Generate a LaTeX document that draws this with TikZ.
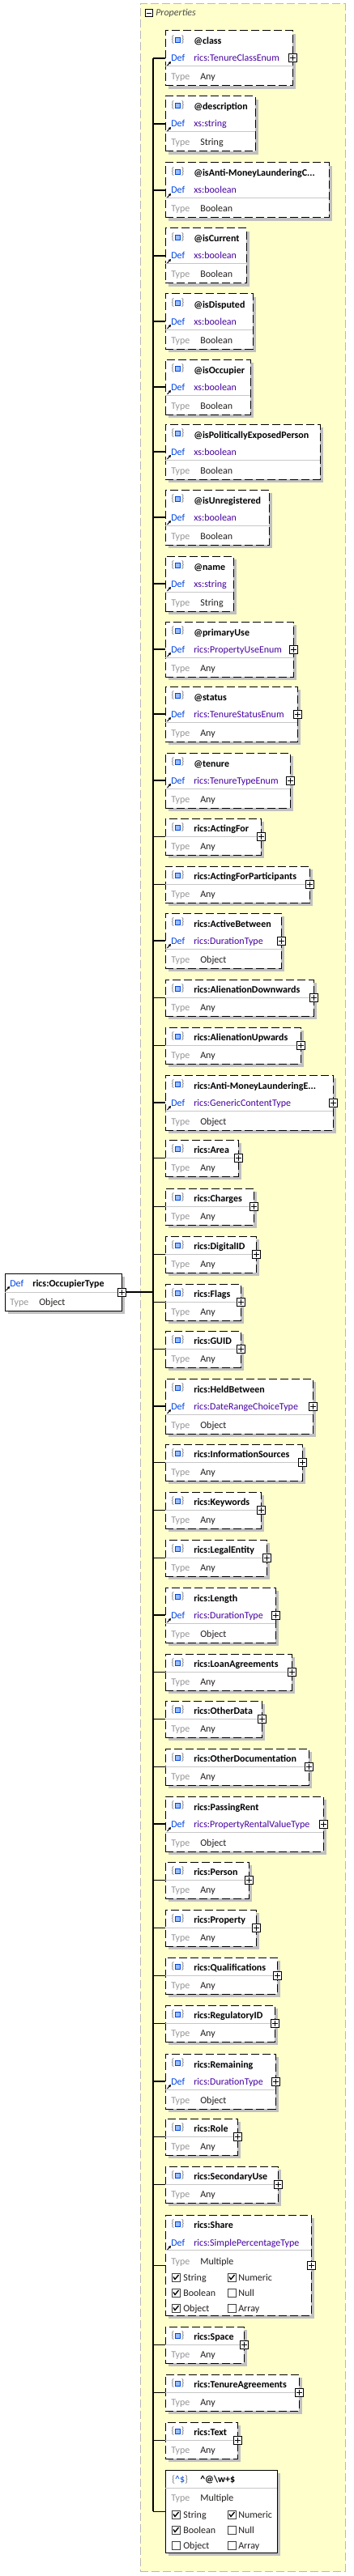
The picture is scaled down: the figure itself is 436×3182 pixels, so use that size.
\documentclass[tikz,border=0pt]{standalone}
\usepackage{fontspec}
\setmainfont{Carlito}
\usetikzlibrary{fit,shadows,arrows.meta}

\definecolor{panelfill}{RGB}{255,255,204}
\definecolor{panelline}{RGB}{185,185,185}
\definecolor{shade}{RGB}{192,192,192}
\definecolor{defblue}{RGB}{0,70,230}
\definecolor{defval}{RGB}{70,0,160}
\definecolor{typegrey}{RGB}{150,150,150}
\definecolor{typeval}{RGB}{35,30,30}
\definecolor{bracegrey}{RGB}{120,120,120}
\definecolor{iconfill}{RGB}{150,190,255}

% box with Def row: id, top, right, name, def, type, plus
\newcommand\defbox[7]{%
  \node[propbox, fit={(204,#2) (#3,#2+68)}] (#1) {};
  \pic at (219.5,#2+11) {objicon};
  \node[bold] at (239,#2+17) {#4};
  \node[lbl, text=defblue] at (211,#2+38) {Def};
  \node[lbl, text=defval] at (239,#2+38) {#5};
  \draw[rowline] (204,#2+44) -- (#3,#2+44);
  \node[lbl, text=typegrey] at (211,#2+61) {Type};
  \node[lbl, text=typeval] at (247,#2+61) {#6};
  \draw[shortcut] (206.5,#2+43) -- ++(4.5,-5);
  \draw[link] (#1.west -| trunk) -- (#1.west);
  \ifnum#7=1 \pic at (#1.east) {plusbox};\fi
}
% box without Def row: id, top, right, name
\newcommand\elbox[4]{%
  \node[propbox, fit={(204,#2) (#3,#2+45)}] (#1) {};
  \pic at (219.5,#2+11) {objicon};
  \node[bold] at (239,#2+16) {#4};
  \draw[rowline] (204,#2+22) -- (#3,#2+22);
  \node[lbl, text=typegrey] at (211,#2+38) {Type};
  \node[lbl, text=typeval] at (247,#2+38) {Any};
  \draw[link] (#1.west -| trunk) -- (#1.west);
  \pic at (#1.east) {plusbox};
}

\begin{document}
\begin{tikzpicture}[x=0.75pt,y=-0.75pt,
  lbl/.style={inner sep=0pt, anchor=base west, font=\fontsize{9}{11}\selectfont},
  bold/.style={lbl, font=\fontsize{9}{11}\selectfont\bfseries},
  propbox/.style={draw=black, fill=white, line width=0.75pt, dash pattern=on 7.5pt off 3pt,
    inner sep=0pt, drop shadow={shadow xshift=3pt, shadow yshift=-3pt, draw=none, fill=shade, opacity=1}},
  patbox/.style={propbox, solid},
  rootbox/.style={propbox, solid},
  panel/.style={draw=panelline, fill=panelfill, line width=0.75pt, dash pattern=on 7.5pt off 3pt, inner sep=0pt},
  rowline/.style={draw=black!22, line width=0.75pt},
  link/.style={draw=black, line width=0.8pt},
  shortcut/.style={-{Triangle[length=2.2pt,width=2.4pt]}, line width=0.7pt},
  objicon/.pic={
    \node[inner sep=0pt, text=bracegrey, font=\fontsize{9}{11}\selectfont] at (-6,0) {\{};
    \node[inner sep=0pt, text=bracegrey, font=\fontsize{9}{11}\selectfont] at (6,0) {\}};
    \draw[draw=defblue, fill=iconfill, line width=0.6pt] (-3,-3) rectangle (3,3);
  },
  plusbox/.pic={
    \draw[fill=white, line width=0.75pt] (-5,-5) rectangle (5,5);
    \draw[line width=0.75pt] (-3.5,0) -- (3.5,0) (0,-3.5) -- (0,3.5);
  },
  minusbox/.pic={
    \draw[fill=white, line width=0.75pt] (-4.5,-4.5) rectangle (4.5,4.5);
    \draw[line width=0.75pt] (-3,0) -- (3,0);
  },
  chkon/.pic={
    \draw[draw=black!75, fill=white, line width=0.6pt] (-5,-5) rectangle (5,5);
    \draw[line width=1pt] (-3,-0.5) -- (-1,2.5) -- (3.5,-3);
  },
  chkoff/.pic={
    \draw[draw=black!75, fill=white, line width=0.6pt] (-5,-5) rectangle (5,5);
  }]
\useasboundingbox (0,0) rectangle (436,3182);

% properties panel
\node[panel, fit={(173,5) (426,3176)}] (props) {};
\pic at (183.5,16.5) {minusbox};
\node[lbl, font=\fontsize{9}{11}\selectfont\itshape, text=black!70] at (192,20) {Properties};
\coordinate (trunk) at (189,0);

% attributes
\defbox{class}{38}{361}{@class}{rics:TenureClassEnum}{Any}{1}
\defbox{description}{119}{315}{@description}{xs:string}{String}{0}
\defbox{isaml}{201}{406}{@isAnti-MoneyLaunderingC...}{xs:boolean}{Boolean}{0}
\defbox{iscurrent}{282}{304}{@isCurrent}{xs:boolean}{Boolean}{0}
\defbox{isdisputed}{363}{312}{@isDisputed}{xs:boolean}{Boolean}{0}
\defbox{isoccupier}{444}{309}{@isOccupier}{xs:boolean}{Boolean}{0}
\defbox{ispep}{524}{395}{@isPoliticallyExposedPerson}{xs:boolean}{Boolean}{0}
\defbox{isunregistered}{605}{332}{@isUnregistered}{xs:boolean}{Boolean}{0}
\defbox{name}{687}{288}{@name}{xs:string}{String}{0}
\defbox{primaryuse}{768}{362}{@primaryUse}{rics:PropertyUseEnum}{Any}{1}
\defbox{status}{848}{367}{@status}{rics:TenureStatusEnum}{Any}{1}
\defbox{tenure}{930}{358}{@tenure}{rics:TenureTypeEnum}{Any}{1}

% elements
\elbox{actingfor}{1011}{322}{rics:ActingFor}
\elbox{actingforparticipants}{1070}{382}{rics:ActingForParticipants}
\defbox{activebetween}{1128}{347}{rics:ActiveBetween}{rics:DurationType}{Object}{1}
\elbox{alienationdownwards}{1210}{387}{rics:AlienationDownwards}
\elbox{alienationupwards}{1269}{371}{rics:AlienationUpwards}
\defbox{amle}{1328}{411}{rics:Anti-MoneyLaunderingE...}{rics:GenericContentType}{Object}{1}
\elbox{area}{1408}{294}{rics:Area}
\elbox{charges}{1468}{313}{rics:Charges}
\elbox{digitalid}{1527}{316}{rics:DigitalID}
\elbox{flags}{1586}{297}{rics:Flags}
\elbox{guid}{1644}{297}{rics:GUID}
\defbox{heldbetween}{1703}{386}{rics:HeldBetween}{rics:DateRangeChoiceType}{Object}{1}
\elbox{informationsources}{1784}{373}{rics:InformationSources}
\elbox{keywords}{1843}{322}{rics:Keywords}
\elbox{legalentity}{1902}{329}{rics:LegalEntity}
\defbox{length}{1961}{340}{rics:Length}{rics:DurationType}{Object}{1}
\elbox{loanagreements}{2043}{360}{rics:LoanAgreements}
\elbox{otherdata}{2101}{323}{rics:OtherData}
\elbox{otherdocumentation}{2160}{381}{rics:OtherDocumentation}
\defbox{passingrent}{2219}{399}{rics:PassingRent}{rics:PropertyRentalValueType}{Object}{1}
\elbox{person}{2300}{307}{rics:Person}
\elbox{property}{2359}{316}{rics:Property}
\elbox{qualifications}{2418}{342}{rics:Qualifications}
\elbox{regulatoryid}{2477}{339}{rics:RegulatoryID}
\defbox{remaining}{2537}{340}{rics:Remaining}{rics:DurationType}{Object}{1}
\elbox{role}{2617}{293}{rics:Role}
\elbox{secondaryuse}{2676}{343}{rics:SecondaryUse}

% share, several types
\node[propbox, fit={(204,2736) (384,2860)}] (share) {};
\pic at (219.5,2747) {objicon};
\node[bold] at (239,2752) {rics:Share};
\node[lbl, text=defblue] at (211,2774) {Def};
\node[lbl, text=defval] at (239,2774) {rics:SimplePercentageType};
\draw[shortcut] (206.5,2779) -- ++(4.5,-5);
\draw[rowline] (204,2779) -- (384,2779);
\node[lbl, text=typegrey] at (211,2797) {Type};
\node[lbl, text=typeval] at (247,2797) {Multiple};
\pic at (217,2813) {chkon};  \node[lbl, text=typeval] at (226,2817) {String};
\pic at (286,2813) {chkon};  \node[lbl, text=typeval] at (294,2817) {Numeric};
\pic at (217,2832) {chkon};  \node[lbl, text=typeval] at (226,2836) {Boolean};
\pic at (286,2832) {chkoff}; \node[lbl, text=typeval] at (294,2836) {Null};
\pic at (217,2851) {chkon};  \node[lbl, text=typeval] at (226,2855) {Object};
\pic at (286,2851) {chkoff}; \node[lbl, text=typeval] at (294,2855) {Array};
\draw[link] (share.west -| trunk) -- (share.west);
\pic at (share.east) {plusbox};

\elbox{space}{2874}{301}{rics:Space}
\elbox{tenureagreements}{2933}{369}{rics:TenureAgreements}
\elbox{text}{2992}{293}{rics:Text}

% pattern property
\node[patbox, fit={(204,3051) (342,3153)}] (pattern) {};
\node[lbl] at (212,3066) {\textcolor{bracegrey}{\{}\textcolor{defblue}{\textasciicircum\$}\textcolor{bracegrey}{\}}};
\node[bold] at (247,3066) {\textasciicircum @\textbackslash w+\$};
\draw[rowline] (204,3073) -- (342,3073);
\node[lbl, text=typegrey] at (211,3089) {Type};
\node[lbl, text=typeval] at (247,3089) {Multiple};
\pic at (217,3106) {chkon};  \node[lbl, text=typeval] at (226,3110) {String};
\pic at (286,3106) {chkon};  \node[lbl, text=typeval] at (294,3110) {Numeric};
\pic at (217,3125) {chkon};  \node[lbl, text=typeval] at (226,3129) {Boolean};
\pic at (286,3125) {chkoff}; \node[lbl, text=typeval] at (294,3129) {Null};
\pic at (217,3144) {chkoff}; \node[lbl, text=typeval] at (226,3148) {Object};
\pic at (286,3144) {chkoff}; \node[lbl, text=typeval] at (294,3148) {Array};
\draw[link] (pattern.west -| trunk) -- (pattern.west);

% trunk
\draw[link] (class.west -| trunk) -- (pattern.west -| trunk);

% root type
\node[rootbox, fit={(6,1573) (150,1619)}] (root) {};
\node[lbl, text=defblue] at (12,1589) {Def};
\draw[shortcut] (7.5,1594) -- ++(4.5,-5);
\node[bold] at (40,1589) {rics:OccupierType};
\draw[rowline] (6,1596) -- (150,1596);
\node[lbl, text=typegrey] at (12,1612) {Type};
\node[lbl, text=typeval] at (48,1612) {Object};
\draw[link] (root.east) -- (root.east -| trunk);
\pic at (root.east) {plusbox};
\end{tikzpicture}
\end{document}
